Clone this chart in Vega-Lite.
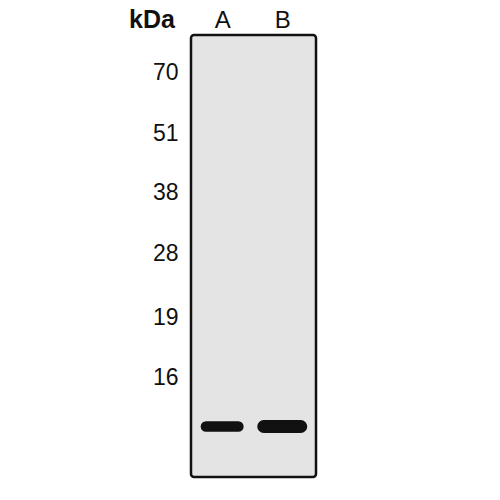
{
  "$schema": "https://vega.github.io/schema/vega-lite/v6.json",
  "autosize": {"type": "none"},
  "padding": {"left": 191, "top": 35, "right": 184, "bottom": 23},
  "width": 125,
  "height": 442,
  "background": "white",
  "config": {
    "view": {"stroke": "#111111", "strokeWidth": 2.5, "fill": "#e4e4e4", "cornerRadius": 3},
    "font": "Liberation Sans",
    "axis": {"grid": false, "domain": false, "ticks": false}
  },
  "data": {
    "values": [
      {"lane": "A", "kDa": 13, "signal": 0.9},
      {"lane": "B", "kDa": 13, "signal": 1.0}
    ]
  },
  "mark": {"type": "tick", "orient": "horizontal", "thickness": 8, "color": "#111111", "stroke": "#111111", "cornerRadius": 4, "opacity": 1},
  "encoding": {
    "x": {
      "field": "lane",
      "type": "nominal",
      "scale": {"type": "point", "padding": 0.54, "align": 0.48},
      "axis": {
        "orient": "top",
        "title": null,
        "labelAngle": 0,
        "labelFont": "Liberation Sans",
        "labelFontSize": 24,
        "labelColor": "#111111",
        "labelPadding": 8,
        "labelBaseline": "alphabetic"
      }
    },
    "y": {
      "field": "kDa",
      "type": "quantitative",
      "scale": {
        "domain": [70, 51, 38, 28, 19, 16, 13],
        "range": [37, 98, 157, 218, 282, 342, 391.5],
        "zero": false,
        "nice": false
      },
      "axis": {
        "values": [70, 51, 38, 28, 19, 16],
        "labelFont": "Liberation Sans",
        "labelFontSize": 23,
        "labelColor": "#111111",
        "labelPadding": 13,
        "labelBaseline": "middle",
        "title": "kDa",
        "titleAngle": 0,
        "titleX": -39.5,
        "titleY": -8,
        "titleAlign": "center",
        "titleBaseline": "alphabetic",
        "titleFont": "Liberation Sans",
        "titleFontWeight": "bold",
        "titleFontSize": 25,
        "titleColor": "#111111"
      }
    },
    "size": {"field": "signal", "type": "quantitative", "scale": {"domain": [0, 1], "range": [0, 45]}, "legend": null},
    "strokeWidth": {"field": "signal", "type": "quantitative", "scale": {"domain": [0.8, 1], "range": [0, 5]}, "legend": null}
  }
}
